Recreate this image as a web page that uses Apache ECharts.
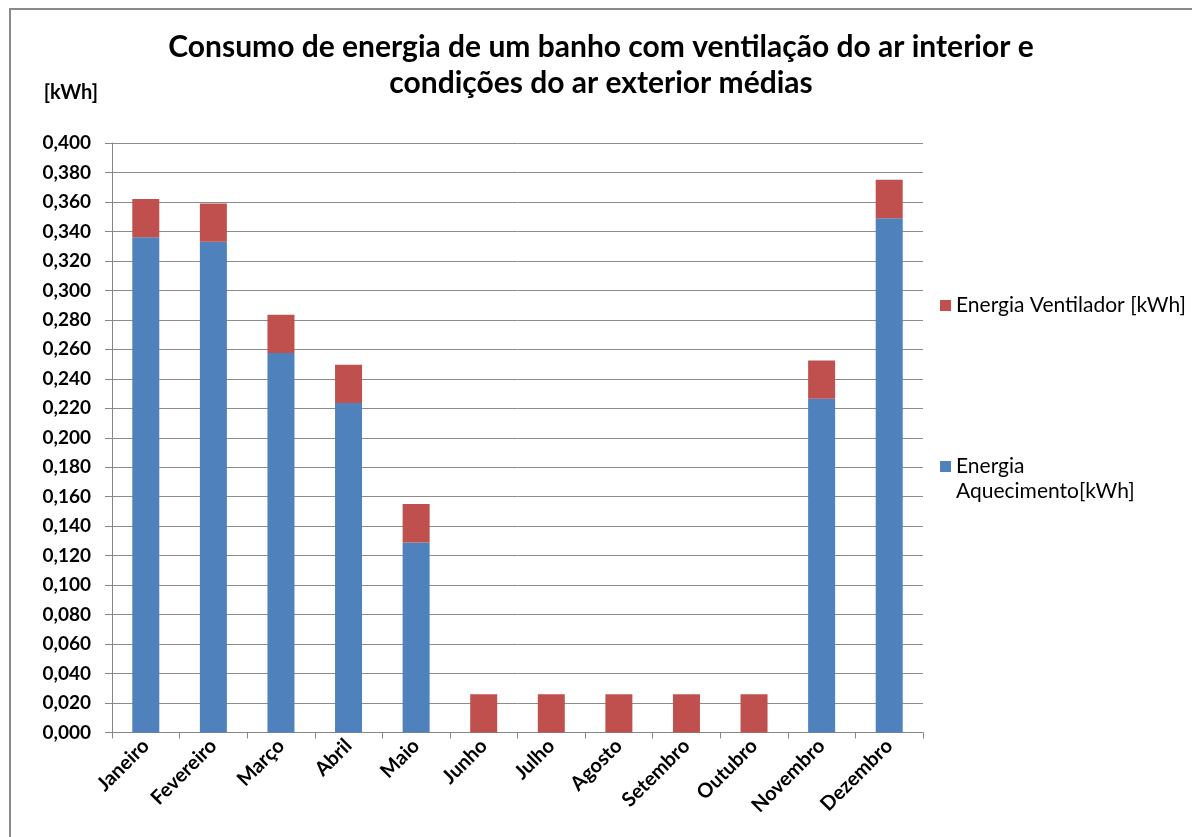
<!DOCTYPE html>
<html>
<head>
<meta charset="utf-8">
<script src="https://cdn.jsdelivr.net/npm/echarts@6/dist/echarts.min.js"></script>
<style>
  html, body { margin: 0; padding: 0; background: #fff; }
  #chart { width: 1192px; height: 837px; }
</style>
</head>
<body>
<div id="chart"></div>
<script>
var months = ['Janeiro', 'Fevereiro', 'Março', 'Abril', 'Maio', 'Junho', 'Julho',
    'Agosto', 'Setembro', 'Outubro', 'Novembro', 'Dezembro'];
var aquecimento = [0.336, 0.333, 0.2575, 0.2235, 0.129, 0, 0, 0, 0, 0, 0.2265, 0.349];
var ventilador = [0.026, 0.026, 0.026, 0.026, 0.026, 0.026, 0.026, 0.026, 0.026, 0.026, 0.026, 0.026];
var nameAquec = 'Energia Aquecimento[kWh]';
var nameVent = 'Energia Ventilador [kWh]';

var font = 'Lato, "Open Sans", sans-serif';

var option = {
    animation: false,
    textStyle: { fontFamily: font },
    title: {
        text: 'Consumo de energia de um banho com ventilação do ar interior e\ncondições do ar exterior médias',
        left: 601,
        textAlign: 'center',
        top: 29,
        padding: 0,
        textStyle: {
            fontFamily: font,
            fontSize: 30,
            fontWeight: 'bold',
            color: '#000',
            lineHeight: 36
        }
    },
    legend: [
        {
            data: [nameVent],
            left: 935,
            top: 288,
            icon: 'rect',
            itemWidth: 11,
            itemHeight: 11,
            textStyle: { fontFamily: font, fontSize: 21, color: '#000', lineHeight: 25 }
        },
        {
            data: [nameAquec],
            left: 935,
            top: 424,
            icon: 'rect',
            itemWidth: 11,
            itemHeight: 11,
            // blank first line keeps the icon level with "Energia"
            formatter: function () { return ' \nEnergia\nAquecimento[kWh]'; },
            textStyle: { fontFamily: font, fontSize: 21, color: '#000', lineHeight: 25 }
        }
    ],
    graphic: [
        {
            type: 'rect',
            shape: { x: 10, y: 9, width: 1300, height: 1000 },
            style: { fill: 'none', stroke: '#8a8a8a', lineWidth: 2 },
            silent: true
        }
    ],
    grid: {
        left: 112,
        right: 269,
        top: 143,
        bottom: 104.5
    },
    xAxis: {
        type: 'category',
        data: months,
        axisLine: { lineStyle: { color: '#868686', width: 1 } },
        axisTick: { show: true, length: 6, lineStyle: { color: '#868686' } },
        axisLabel: {
            rotate: 45,
            interval: 0,
            margin: 10,
            fontFamily: font,
            fontSize: 20,
            fontWeight: 'bold',
            color: '#000'
        }
    },
    yAxis: {
        type: 'value',
        min: 0,
        max: 0.4,
        interval: 0.02,
        name: '[kWh]',
        nameLocation: 'end',
        nameGap: 40,
        nameTextStyle: {
            fontFamily: font,
            fontSize: 20,
            fontWeight: 'bold',
            color: '#000',
            align: 'right',
            padding: [0, 14, 0, 0]
        },
        axisLine: { show: true, lineStyle: { color: '#868686', width: 1 } },
        axisTick: { show: true, length: 7, lineStyle: { color: '#868686' } },
        splitLine: { lineStyle: { color: '#8c8c8c', width: 1 } },
        axisLabel: {
            margin: 21,
            fontFamily: font,
            fontSize: 19,
            fontWeight: 'bold',
            color: '#000',
            formatter: function (v) { return v.toFixed(3).replace('.', ','); }
        }
    },
    series: [
        {
            name: nameAquec,
            type: 'bar',
            stack: 'total',
            barWidth: 27,
            itemStyle: { color: '#4F81BD' },
            data: aquecimento
        },
        {
            name: nameVent,
            type: 'bar',
            stack: 'total',
            barWidth: 27,
            itemStyle: { color: '#C0504D' },
            data: ventilador
        }
    ]
};

var chart = echarts.init(document.getElementById('chart'));
chart.setOption(option);
</script>
</body>
</html>
